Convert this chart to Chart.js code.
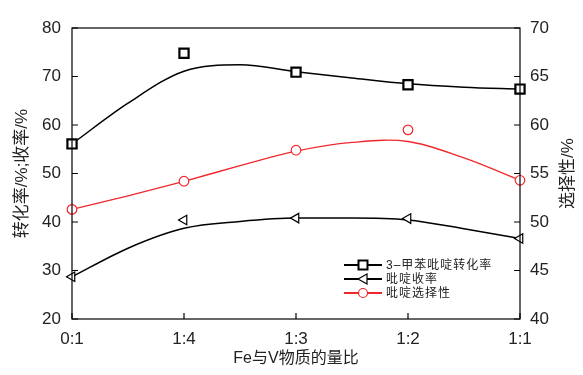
<!DOCTYPE html>
<html>
<head>
<meta charset="utf-8">
<script src="https://cdn.jsdelivr.net/npm/chart.js@4.4.1/dist/chart.umd.min.js"></script>
<style>
  html, body { margin: 0; padding: 0; background: #fff; }
  #wrap { width: 583px; height: 375px; }
</style>
</head>
<body>
<div id="wrap"><canvas id="chart" width="583" height="375"></canvas></div>
<script>
// categories on the x axis (Fe:V ratio)
const categories = ['0:1', '1:4', '1:3', '1:2', '1:1'];
const catPos = [0, 1, 2, 3, 4];

// measured points
const conversion = [56.1, 74.8, 70.9, 68.3, 67.4];   // 3-甲苯吡啶转化率, left axis
const yieldPy = [28.7, 40.4, 40.8, 40.7, 36.6];      // 吡啶收率, left axis
const selectivity = [51.3, 54.2, 57.4, 59.5, 54.3];  // 吡啶选择性, right axis

// fitted curves at half steps
const fitPos = [0, 0.5, 1, 1.5, 2, 2.5, 3, 3.5, 4];
const conversionFit = [56.1, 64.5, 71.1, 72.4, 71.0, 69.7, 68.5, 67.8, 67.4];
const yieldFit = [28.7, 34.6, 38.7, 40.1, 40.8, 40.8, 40.4, 38.6, 36.6];
const selectivityFit = [51.3, 52.7, 54.2, 55.8, 57.3, 58.2, 58.3, 56.6, 54.3];

const leftTicks = [20, 30, 40, 50, 60, 70, 80];
const rightTicks = [40, 45, 50, 55, 60, 65, 70];

const legendLabels = ['3\u2013甲苯吡啶转化率', '吡啶收率', '吡啶选择性'];

const RED = '#f0282d';
const numFont = '"Liberation Sans", Arial, sans-serif';
const cjkFont = '"Liberation Sans", "Noto Sans CJK SC", sans-serif';

function pts(xs, ys) {
    return xs.map((x, i) => ({ x: x, y: ys[i] }));
}

// frame, inward ticks, right title and in-plot legend
const decorations = {
    id: 'decorations',
    afterDraw(chart) {
        const ctx = chart.ctx;
        const a = chart.chartArea;
        const sx = chart.scales.x, sy = chart.scales.y, sy1 = chart.scales.y1;
        ctx.save();
        ctx.strokeStyle = '#000';
        ctx.lineWidth = 1.2;
        ctx.strokeRect(a.left, a.top, a.right - a.left, a.bottom - a.top);

        ctx.beginPath();
        catPos.forEach(v => {
            const px = sx.getPixelForValue(v);
            ctx.moveTo(px, a.bottom);
            ctx.lineTo(px, a.bottom - 6);
        });
        leftTicks.forEach(v => {
            const py = sy.getPixelForValue(v);
            ctx.moveTo(a.left, py);
            ctx.lineTo(a.left + 6, py);
        });
        rightTicks.forEach(v => {
            const py = sy1.getPixelForValue(v);
            ctx.moveTo(a.right, py);
            ctx.lineTo(a.right - 6, py);
        });
        ctx.stroke();

        // right axis title, reading bottom to top
        ctx.save();
        ctx.translate(568, (a.top + a.bottom) / 2);
        ctx.rotate(-Math.PI / 2);
        ctx.fillStyle = '#222';
        ctx.font = '17px ' + cjkFont;
        ctx.textAlign = 'center';
        ctx.textBaseline = 'middle';
        ctx.fillText('选择性/%', 0, 0);
        ctx.restore();

        // legend
        const rows = [265, 279, 293];
        const x0 = 344, x1 = 382, xm = 363;
        rows.forEach((y, i) => {
            const col = i === 2 ? RED : '#000';
            ctx.strokeStyle = col;
            ctx.lineWidth = 2;
            ctx.beginPath();
            ctx.moveTo(x0, y);
            ctx.lineTo(x1, y);
            ctx.stroke();
            ctx.fillStyle = '#fff';
            ctx.beginPath();
            if (i === 0) {
                ctx.rect(xm - 4.5, y - 4.5, 9, 9);
            } else if (i === 1) {
                ctx.moveTo(xm - 5, y);
                ctx.lineTo(xm + 4, y - 5);
                ctx.lineTo(xm + 4, y + 5);
                ctx.closePath();
            } else {
                ctx.arc(xm, y, 4.5, 0, Math.PI * 2);
            }
            ctx.fill();
            ctx.lineWidth = i === 0 ? 2 : 1.2;
            ctx.stroke();
            ctx.fillStyle = '#222';
            ctx.font = '12px ' + cjkFont;
            ctx.letterSpacing = '1px';
            ctx.textAlign = 'left';
            ctx.textBaseline = 'middle';
            ctx.fillText(legendLabels[i], 386, y + 0.5);
            ctx.letterSpacing = '0px';
        });
        ctx.restore();
    }
};

const ctx = document.getElementById('chart').getContext('2d');
const chart = new Chart(ctx, {
    type: 'scatter',
    data: {
        datasets: [{
            label: legendLabels[0],
            data: pts(catPos, conversion),
            yAxisID: 'y',
            pointStyle: 'rect',
            pointRadius: 6.5,
            pointBorderWidth: 2.2,
            pointBorderColor: '#000',
            pointBackgroundColor: '#fff',
            showLine: false
        }, {
            label: legendLabels[1],
            data: pts(catPos, yieldPy),
            yAxisID: 'y',
            pointStyle: 'triangle',
            pointRotation: -90,
            pointRadius: 5.5,
            pointBorderWidth: 1.2,
            pointBorderColor: '#000',
            pointBackgroundColor: '#fff',
            showLine: false
        }, {
            label: legendLabels[2],
            data: pts(catPos, selectivity),
            yAxisID: 'y1',
            pointStyle: 'circle',
            pointRadius: 4.8,
            pointBorderWidth: 1.2,
            pointBorderColor: RED,
            pointBackgroundColor: '#fff',
            showLine: false
        }, {
            label: 'fit1',
            data: pts(fitPos, conversionFit),
            yAxisID: 'y',
            showLine: true,
            borderColor: '#000',
            borderWidth: 1.5,
            pointRadius: 0,
            cubicInterpolationMode: 'monotone'
        }, {
            label: 'fit2',
            data: pts(fitPos, yieldFit),
            yAxisID: 'y',
            showLine: true,
            borderColor: '#000',
            borderWidth: 1.5,
            pointRadius: 0,
            cubicInterpolationMode: 'monotone'
        }, {
            label: 'fit3',
            data: pts(fitPos, selectivityFit),
            yAxisID: 'y1',
            showLine: true,
            borderColor: RED,
            borderWidth: 1.3,
            pointRadius: 0,
            tension: 0.35
        }]
    },
    options: {
        responsive: false,
        animation: false,
        clip: false,
        layout: { padding: { top: 28, left: 0, right: 0, bottom: 0 } },
        plugins: {
            legend: { display: false },
            tooltip: { enabled: false }
        },
        scales: {
            x: {
                type: 'linear',
                min: 0,
                max: 4,
                afterFit(scale) { scale.height = 56; },
                afterBuildTicks(scale) { scale.ticks = catPos.map(v => ({ value: v })); },
                grid: { display: false, drawTicks: false },
                border: { display: false },
                ticks: {
                    padding: 10,
                    color: '#222',
                    font: { family: numFont, size: 17 },
                    callback: (v) => categories[catPos.indexOf(v)]
                },
                title: {
                    display: true,
                    text: 'Fe与V物质的量比',
                    color: '#222',
                    font: { family: cjkFont, size: 16 },
                    padding: { top: 0, bottom: 7 }
                }
            },
            y: {
                position: 'left',
                min: 20,
                max: 80,
                afterFit(scale) { scale.width = 72; },
                afterBuildTicks(scale) { scale.ticks = leftTicks.map(v => ({ value: v })); },
                grid: { display: false, drawTicks: false },
                border: { display: false },
                ticks: {
                    padding: 11,
                    color: '#222',
                    font: { family: numFont, size: 17 }
                },
                title: {
                    display: true,
                    text: '转化率/%;收率/%',
                    color: '#222',
                    font: { family: cjkFont, size: 17 },
                    padding: { top: 12, bottom: 0 }
                }
            },
            y1: {
                position: 'right',
                min: 40,
                max: 70,
                afterFit(scale) { scale.width = 63; },
                afterBuildTicks(scale) { scale.ticks = rightTicks.map(v => ({ value: v })); },
                grid: { display: false, drawTicks: false },
                border: { display: false },
                ticks: {
                    padding: 10,
                    color: '#222',
                    font: { family: numFont, size: 17 }
                }
            }
        }
    },
    plugins: [decorations]
});
</script>
</body>
</html>
